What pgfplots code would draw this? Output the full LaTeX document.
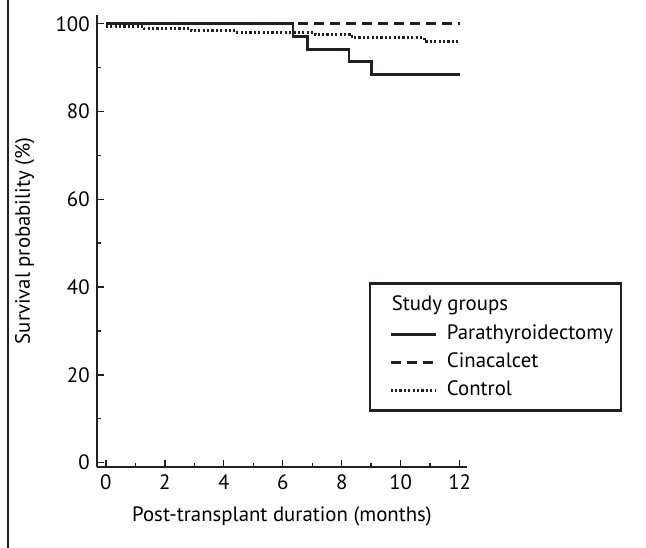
\documentclass[border=0pt]{standalone}
\usepackage{fontspec}
\setmainfont{PT Sans}
\usepackage{pgfplots}
\pgfplotsset{compat=1.18}
\definecolor{ink}{HTML}{231F20}

\begin{document}
\fontsize{10.4bp}{12.4bp}\selectfont
\begin{tikzpicture}[x=1bp,y=1bp]
\useasboundingbox (0,0) rectangle (323,274);
% frame edge on the left of the panel
\draw[ink, line width=0.9bp] (4,0) -- (4,274);
\begin{axis}[
  at={(48.5bp,40.5bp)}, anchor=south west,
  scale only axis, width=185bp, height=226bp,
  axis lines*=left,
  axis line style={ink, line width=0.75bp},
  xmin=-0.3, xmax=12.25, ymin=-1, ymax=102,
  xtick={0,2,...,12}, minor xtick={1,3,...,11},
  ytick={0,20,...,100}, minor ytick={10,30,...,90},
  tick align=inside,
  major tick length=3.5bp, minor tick length=2bp,
  tick style={ink, line width=0.7bp},
  /pgf/number format/assume math mode=true,
  xlabel={Post-transplant duration (months)},
  ylabel={Survival probability (\%)},
  xlabel style={at={(axis description cs:0.5,-0.11)}, anchor=center},
  ylabel style={at={(axis description cs:-0.195,0.5)}, anchor=center},
  legend image code/.code={\path (0bp,0bp) (33bp,0bp); \draw[#1] (7.5bp,0bp) -- (30bp,0bp);},
  legend cell align=left,
  legend style={at={(axis description cs:0.735,0.409)}, anchor=north west,
    draw=ink, line width=1.2bp, inner xsep=2bp, inner ysep=3.5bp,
    row sep=0.5bp,
    nodes={inner xsep=2bp, inner ysep=2bp, text depth=0.2em}},
]
\addlegendimage{legend image code/.code={\path (0bp,0bp) (33bp,0bp); \node[anchor=west, overlay, inner sep=0pt] at (7.5bp,0bp) {Study groups};}}
\addlegendentry{\strut}

\addplot[const plot, ink, line width=1.4bp] coordinates {
  (0,100) (6.35,97.1) (6.85,94.2) (8.25,91.4) (9.0,88.4) (12,88.4)};
\addlegendentry{Parathyroidectomy}

\addplot[const plot, ink, line width=1.4bp, dash pattern=on 5bp off 3bp] coordinates {
  (0,100) (12,100)};
\addlegendentry{Cinacalcet}

\addplot[const plot, ink, line width=1.4bp, dash pattern=on 1.1bp off 1.1bp] coordinates {
  (0,99.4) (1.3,98.9) (2.9,98.4) (4.35,98.0) (7.1,97.5) (8.35,96.8) (10.8,96.0) (12,96.0)};
\addlegendentry{Control}
\end{axis}
\end{tikzpicture}
\end{document}
